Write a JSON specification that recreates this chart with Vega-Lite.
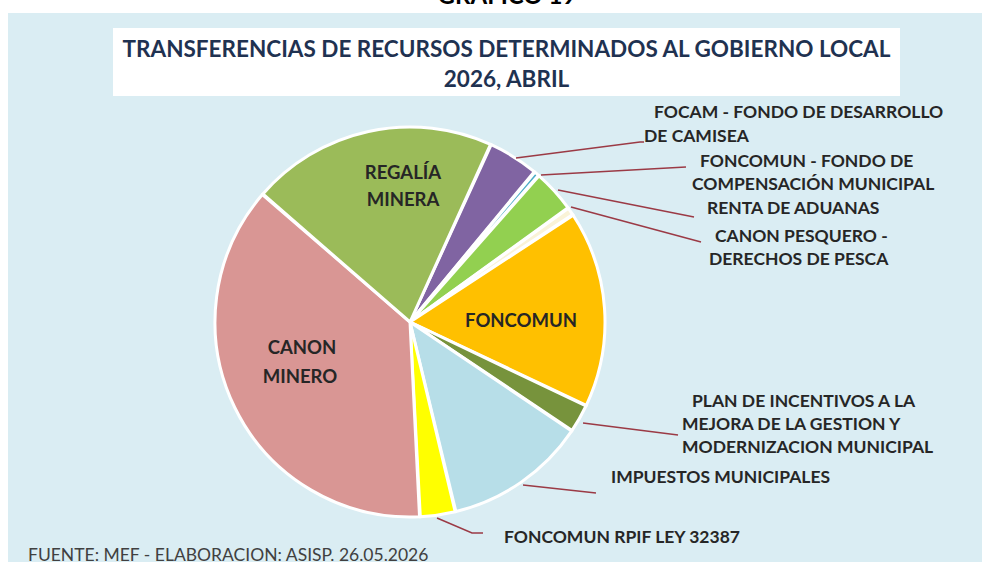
{
  "$schema": "https://vega.github.io/schema/vega-lite/v6.json",
  "width": 974,
  "height": 549,
  "autosize": {"type": "none"},
  "padding": {"left": 8, "top": 13, "right": 6, "bottom": 0},
  "background": "white",
  "config": {"view": {"fill": "#DAEDF3", "stroke": null}},
  "datasets": {
    "slices": [
      {"cat": "FOCAM - FONDO DE DESARROLLO DE CAMISEA", "value": 4.22, "ord": 1},
      {"cat": "FONCOMUN - FONDO DE COMPENSACIÓN MUNICIPAL", "value": 0.45, "ord": 2},
      {"cat": "RENTA DE ADUANAS", "value": 3.58, "ord": 3},
      {"cat": "CANON PESQUERO - DERECHOS DE PESCA", "value": 0.69, "ord": 4},
      {"cat": "FONCOMUN", "value": 16.31, "ord": 5},
      {"cat": "PLAN DE INCENTIVOS A LA MEJORA DE LA GESTION Y MODERNIZACION MUNICIPAL", "value": 2.36, "ord": 6},
      {"cat": "IMPUESTOS MUNICIPALES", "value": 11.83, "ord": 7},
      {"cat": "FONCOMUN RPIF LEY 32387", "value": 2.94, "ord": 8},
      {"cat": "CANON MINERO", "value": 37.17, "ord": 9},
      {"cat": "REGALÍA MINERA", "value": 20.44, "ord": 10}
    ],
    "box": [{"x1": -1.5231, "x2": 2.5128, "y1": 1.5077, "y2": 1.159}],
    "texts": [
      {"kind": "header", "txt": "GRAFICO 19", "x": 0.4974, "y": 1.6333},
      {"kind": "title", "txt": "TRANSFERENCIAS DE RECURSOS DETERMINADOS AL GOBIERNO LOCAL", "x": 0.4949, "y": 1.3974},
      {"kind": "title", "txt": "2026, ABRIL", "x": 0.4949, "y": 1.241},
      {"kind": "label", "txt": "FOCAM - FONDO DE DESARROLLO", "x": 1.2513, "y": 1.0718},
      {"kind": "label", "txt": "DE CAMISEA", "x": 1.2, "y": 0.9487},
      {"kind": "label", "txt": "FONCOMUN - FONDO DE", "x": 1.4872, "y": 0.8205},
      {"kind": "label", "txt": "COMPENSACIÓN MUNICIPAL", "x": 1.4462, "y": 0.7026},
      {"kind": "label", "txt": "RENTA DE ADUANAS", "x": 1.5231, "y": 0.5795},
      {"kind": "label", "txt": "CANON PESQUERO -", "x": 1.5641, "y": 0.4359},
      {"kind": "label", "txt": "DERECHOS DE PESCA", "x": 1.5333, "y": 0.3179},
      {"kind": "label", "txt": "PLAN DE INCENTIVOS A LA", "x": 1.4462, "y": -0.4103},
      {"kind": "label", "txt": "MEJORA DE LA GESTION Y", "x": 1.3949, "y": -0.5282},
      {"kind": "label", "txt": "MODERNIZACION MUNICIPAL", "x": 1.3949, "y": -0.6462},
      {"kind": "label", "txt": "IMPUESTOS MUNICIPALES", "x": 1.0308, "y": -0.8},
      {"kind": "label", "txt": "FONCOMUN RPIF LEY 32387", "x": 0.4821, "y": -1.1077},
      {"kind": "inner", "txt": "REGALÍA", "x": -0.0359, "y": 0.7641},
      {"kind": "inner", "txt": "MINERA", "x": -0.0359, "y": 0.6256},
      {"kind": "inner", "txt": "CANON", "x": -0.5538, "y": -0.1333},
      {"kind": "inner", "txt": "MINERO", "x": -0.5641, "y": -0.2821},
      {"kind": "inner", "txt": "FONCOMUN", "x": 0.5692, "y": 0.0051},
      {"kind": "footer", "txt": "FUENTE: MEF - ELABORACION: ASISP. 26.05.2026", "x": -1.959, "y": -1.2256}
    ],
    "leaders": [
      {"id": "focam", "seq": 1, "x": 0.5436, "y": 0.841},
      {"id": "focam", "seq": 2, "x": 1.1795, "y": 0.9231},
      {"id": "focam", "seq": 3, "x": 1.2, "y": 0.9231},
      {"id": "fcm", "seq": 1, "x": 0.6718, "y": 0.7538},
      {"id": "fcm", "seq": 2, "x": 1.4154, "y": 0.7949},
      {"id": "renta", "seq": 1, "x": 0.759, "y": 0.6769},
      {"id": "renta", "seq": 2, "x": 1.4564, "y": 0.5385},
      {"id": "pesq", "seq": 1, "x": 0.8256, "y": 0.5897},
      {"id": "pesq", "seq": 2, "x": 1.4923, "y": 0.4103},
      {"id": "plan", "seq": 1, "x": 0.8872, "y": -0.5179},
      {"id": "plan", "seq": 2, "x": 1.3744, "y": -0.5795},
      {"id": "imp", "seq": 1, "x": 0.5795, "y": -0.8359},
      {"id": "imp", "seq": 2, "x": 0.9538, "y": -0.8769},
      {"id": "rpif", "seq": 1, "x": 0.1385, "y": -1.0051},
      {"id": "rpif", "seq": 2, "x": 0.3179, "y": -1.0821},
      {"id": "rpif", "seq": 3, "x": 0.3744, "y": -1.0821}
    ]
  },
  "layer": [
    {
      "data": {"name": "box"},
      "mark": {"type": "rect", "fill": "white"},
      "encoding": {
        "x": {"field": "x1", "type": "quantitative", "scale": {"domain": [-2.0615, 2.9333], "nice": false, "zero": false}, "axis": null},
        "x2": {"field": "x2"},
        "y": {"field": "y1", "type": "quantitative", "scale": {"domain": [-1.2308, 1.5846], "nice": false, "zero": false}, "axis": null},
        "y2": {"field": "y2"}
      }
    },
    {
      "data": {"name": "slices"},
      "mark": {"type": "arc", "radius": 195, "stroke": "white", "strokeWidth": 3, "padAngle": 0.004},
      "encoding": {
        "x": {"datum": 0, "type": "quantitative"},
        "y": {"datum": 0, "type": "quantitative"},
        "theta": {"field": "value", "type": "quantitative", "stack": true, "scale": {"range": [0.4276, 6.7108]}},
        "order": {"field": "ord", "type": "quantitative"},
        "color": {
          "field": "cat", "type": "nominal", "legend": null,
          "scale": {
            "domain": ["FOCAM - FONDO DE DESARROLLO DE CAMISEA", "FONCOMUN - FONDO DE COMPENSACIÓN MUNICIPAL", "RENTA DE ADUANAS", "CANON PESQUERO - DERECHOS DE PESCA", "FONCOMUN", "PLAN DE INCENTIVOS A LA MEJORA DE LA GESTION Y MODERNIZACION MUNICIPAL", "IMPUESTOS MUNICIPALES", "FONCOMUN RPIF LEY 32387", "CANON MINERO", "REGALÍA MINERA"],
            "range": ["#8064A2", "#4BACC6", "#92D050", "#FAF3D8", "#FFC000", "#77933C", "#B7DEE8", "#FFFF00", "#D99694", "#9BBB59"]
          }
        }
      }
    },
    {
      "data": {"name": "leaders"},
      "mark": {"type": "line", "color": "#9B3A45", "strokeWidth": 1.5},
      "encoding": {
        "x": {"field": "x", "type": "quantitative"},
        "y": {"field": "y", "type": "quantitative"},
        "detail": {"field": "id"},
        "order": {"field": "seq", "type": "quantitative"}
      }
    },
    {
      "data": {"name": "texts"},
      "transform": [{"filter": "datum.kind === 'header'"}],
      "mark": {"type": "text", "font": "Lato", "fontWeight": "bold", "fontSize": 24, "align": "center", "baseline": "alphabetic", "color": "#000000"},
      "encoding": {"x": {"field": "x", "type": "quantitative"}, "y": {"field": "y", "type": "quantitative"}, "text": {"field": "txt"}}
    },
    {
      "data": {"name": "texts"},
      "transform": [{"filter": "datum.kind === 'title'"}],
      "mark": {"type": "text", "font": "Lato", "fontWeight": "bold", "fontSize": 22.5, "align": "center", "baseline": "middle", "color": "#1F3251"},
      "encoding": {"x": {"field": "x", "type": "quantitative"}, "y": {"field": "y", "type": "quantitative"}, "text": {"field": "txt"}}
    },
    {
      "data": {"name": "texts"},
      "transform": [{"filter": "datum.kind === 'label'"}],
      "mark": {"type": "text", "font": "Lato", "fontWeight": "bold", "fontSize": 17.5, "align": "left", "baseline": "middle", "color": "#262626"},
      "encoding": {"x": {"field": "x", "type": "quantitative"}, "y": {"field": "y", "type": "quantitative"}, "text": {"field": "txt"}}
    },
    {
      "data": {"name": "texts"},
      "transform": [{"filter": "datum.kind === 'inner'"}],
      "mark": {"type": "text", "font": "Lato", "fontWeight": "bold", "fontSize": 18.5, "align": "center", "baseline": "middle", "color": "#262626"},
      "encoding": {"x": {"field": "x", "type": "quantitative"}, "y": {"field": "y", "type": "quantitative"}, "text": {"field": "txt"}}
    },
    {
      "data": {"name": "texts"},
      "transform": [{"filter": "datum.kind === 'footer'"}],
      "mark": {"type": "text", "font": "Lato", "fontSize": 17.5, "align": "left", "baseline": "alphabetic", "color": "#404040"},
      "encoding": {"x": {"field": "x", "type": "quantitative"}, "y": {"field": "y", "type": "quantitative"}, "text": {"field": "txt"}}
    }
  ]
}
